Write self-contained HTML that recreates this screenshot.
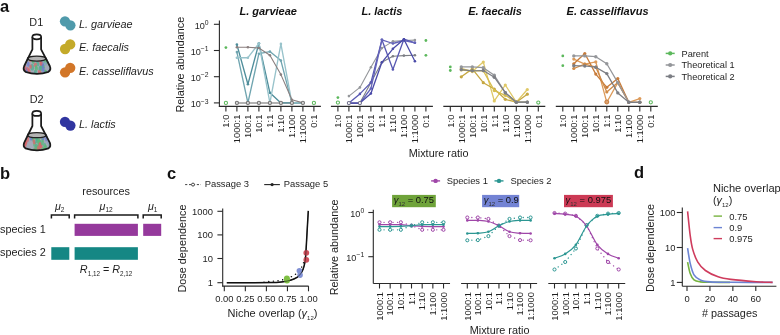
<!DOCTYPE html>
<html><head><meta charset="utf-8"><style>
html,body{margin:0;padding:0;background:#fff;width:780px;height:335px;overflow:hidden}
svg{display:block;filter:blur(0.3px)}
text{font-family:"Liberation Sans", sans-serif}
</style></head><body>
<svg width="780" height="335" viewBox="0 0 780 335" font-family='"Liberation Sans", sans-serif'>
<rect width="780" height="335" fill="#fff"/>
<text x="0.00" y="11.70" font-size="16.5" text-anchor="start" font-weight="bold" fill="#111">a</text>
<text x="0.00" y="178.80" font-size="16.5" text-anchor="start" font-weight="bold" fill="#111">b</text>
<text x="167.00" y="178.80" font-size="16.5" text-anchor="start" font-weight="bold" fill="#111">c</text>
<text x="634.00" y="177.80" font-size="16.5" text-anchor="start" font-weight="bold" fill="#111">d</text>
<clipPath id="liq1"><path d="M27.2,58 L24.2,66 Q22.8,69.5 25.5,71.5 Q37,75.5 48.5,71.5 Q51.2,69.5 49.8,66 L46.8,58 Z"/></clipPath>
<g clip-path="url(#liq1)">
<rect x="20" y="55" width="34" height="22" fill="#a3aab8"/>
<ellipse cx="45.2" cy="72.2" rx="1.4" ry="2.4" transform="rotate(-20 45.2 72.2)" fill="#8aa0c8" opacity="0.75"/>
<ellipse cx="50.0" cy="70.8" rx="1.3" ry="2.0" transform="rotate(-0 50.0 70.8)" fill="#6a78d0" opacity="0.75"/>
<ellipse cx="43.4" cy="65.6" rx="1.4" ry="3.0" transform="rotate(-12 43.4 65.6)" fill="#5db878" opacity="0.75"/>
<ellipse cx="41.6" cy="68.8" rx="1.1" ry="2.6" transform="rotate(20 41.6 68.8)" fill="#5db878" opacity="0.75"/>
<ellipse cx="45.4" cy="71.9" rx="1.4" ry="2.1" transform="rotate(-12 45.4 71.9)" fill="#5db878" opacity="0.75"/>
<ellipse cx="25.7" cy="59.7" rx="1.7" ry="3.2" transform="rotate(17 25.7 59.7)" fill="#9a9ac0" opacity="0.75"/>
<ellipse cx="49.1" cy="73.6" rx="1.4" ry="2.9" transform="rotate(8 49.1 73.6)" fill="#5db878" opacity="0.75"/>
<ellipse cx="40.7" cy="62.9" rx="1.3" ry="2.5" transform="rotate(-15 40.7 62.9)" fill="#d9676a" opacity="0.75"/>
<ellipse cx="26.3" cy="69.6" rx="1.2" ry="2.3" transform="rotate(-1 26.3 69.6)" fill="#6a78d0" opacity="0.75"/>
<ellipse cx="39.7" cy="72.3" rx="1.7" ry="2.7" transform="rotate(-12 39.7 72.3)" fill="#d9676a" opacity="0.75"/>
<ellipse cx="23.5" cy="64.3" rx="1.7" ry="2.9" transform="rotate(-8 23.5 64.3)" fill="#9a9ac0" opacity="0.75"/>
<ellipse cx="37.8" cy="63.6" rx="1.5" ry="2.7" transform="rotate(-13 37.8 63.6)" fill="#4fae90" opacity="0.75"/>
<ellipse cx="25.7" cy="66.1" rx="1.6" ry="2.1" transform="rotate(4 25.7 66.1)" fill="#9a9ac0" opacity="0.75"/>
<ellipse cx="35.5" cy="72.3" rx="1.6" ry="2.7" transform="rotate(-1 35.5 72.3)" fill="#4fae90" opacity="0.75"/>
<ellipse cx="49.3" cy="62.1" rx="1.5" ry="2.6" transform="rotate(9 49.3 62.1)" fill="#6a78d0" opacity="0.75"/>
<ellipse cx="23.5" cy="67.6" rx="1.2" ry="3.1" transform="rotate(-12 23.5 67.6)" fill="#9a9ac0" opacity="0.75"/>
<ellipse cx="32.2" cy="67.3" rx="1.8" ry="3.3" transform="rotate(-3 32.2 67.3)" fill="#4fae90" opacity="0.75"/>
<ellipse cx="30.5" cy="66.6" rx="1.4" ry="2.2" transform="rotate(-5 30.5 66.6)" fill="#d9676a" opacity="0.75"/>
<ellipse cx="40.8" cy="66.5" rx="1.3" ry="2.2" transform="rotate(17 40.8 66.5)" fill="#4fae90" opacity="0.75"/>
<ellipse cx="42.4" cy="63.3" rx="1.5" ry="3.4" transform="rotate(9 42.4 63.3)" fill="#6a78d0" opacity="0.75"/>
<ellipse cx="49.2" cy="63.7" rx="1.0" ry="2.6" transform="rotate(-18 49.2 63.7)" fill="#5db878" opacity="0.75"/>
<ellipse cx="40.1" cy="68.1" rx="1.5" ry="2.5" transform="rotate(19 40.1 68.1)" fill="#4fae90" opacity="0.75"/>
<ellipse cx="46.9" cy="60.0" rx="1.2" ry="3.3" transform="rotate(5 46.9 60.0)" fill="#8aa0c8" opacity="0.75"/>
<ellipse cx="45.6" cy="71.8" rx="1.4" ry="2.1" transform="rotate(-11 45.6 71.8)" fill="#5db878" opacity="0.75"/>
<ellipse cx="33.1" cy="61.3" rx="1.5" ry="2.8" transform="rotate(-14 33.1 61.3)" fill="#5db878" opacity="0.75"/>
<ellipse cx="43.0" cy="59.7" rx="1.4" ry="3.0" transform="rotate(-17 43.0 59.7)" fill="#5db878" opacity="0.75"/>
<ellipse cx="42.6" cy="61.0" rx="1.7" ry="2.1" transform="rotate(5 42.6 61.0)" fill="#5db878" opacity="0.75"/>
<ellipse cx="48.4" cy="73.3" rx="1.4" ry="3.0" transform="rotate(12 48.4 73.3)" fill="#6a78d0" opacity="0.75"/>
<ellipse cx="45.9" cy="62.0" rx="1.7" ry="2.7" transform="rotate(-2 45.9 62.0)" fill="#5db878" opacity="0.75"/>
<ellipse cx="36.4" cy="68.3" rx="1.7" ry="2.4" transform="rotate(-5 36.4 68.3)" fill="#5db878" opacity="0.75"/>
<ellipse cx="49.3" cy="60.3" rx="1.7" ry="2.4" transform="rotate(19 49.3 60.3)" fill="#8aa0c8" opacity="0.75"/>
<ellipse cx="35.4" cy="64.9" rx="1.6" ry="2.3" transform="rotate(4 35.4 64.9)" fill="#d9676a" opacity="0.75"/>
<ellipse cx="38.0" cy="59.5" rx="1.1" ry="2.5" transform="rotate(-18 38.0 59.5)" fill="#d9676a" opacity="0.75"/>
<ellipse cx="42.6" cy="64.5" rx="1.1" ry="3.0" transform="rotate(-15 42.6 64.5)" fill="#6a78d0" opacity="0.75"/>
<ellipse cx="36.0" cy="66.9" rx="1.1" ry="2.1" transform="rotate(1 36.0 66.9)" fill="#5db878" opacity="0.75"/>
<ellipse cx="28.2" cy="70.3" rx="1.1" ry="3.0" transform="rotate(0 28.2 70.3)" fill="#9a9ac0" opacity="0.75"/>
<ellipse cx="45.3" cy="74.1" rx="1.6" ry="3.0" transform="rotate(-15 45.3 74.1)" fill="#6a78d0" opacity="0.75"/>
<ellipse cx="44.2" cy="74.9" rx="1.4" ry="2.0" transform="rotate(12 44.2 74.9)" fill="#8aa0c8" opacity="0.75"/>
<ellipse cx="28.3" cy="64.2" rx="1.3" ry="2.6" transform="rotate(-4 28.3 64.2)" fill="#6a78d0" opacity="0.75"/>
<ellipse cx="43.1" cy="69.3" rx="1.6" ry="2.5" transform="rotate(7 43.1 69.3)" fill="#6a78d0" opacity="0.75"/>
<ellipse cx="27.6" cy="69.0" rx="1.3" ry="2.1" transform="rotate(-18 27.6 69.0)" fill="#d9676a" opacity="0.75"/>
<ellipse cx="26.2" cy="70.4" rx="1.1" ry="2.5" transform="rotate(-19 26.2 70.4)" fill="#6a78d0" opacity="0.75"/>
<ellipse cx="45.0" cy="62.6" rx="1.5" ry="3.3" transform="rotate(-8 45.0 62.6)" fill="#8aa0c8" opacity="0.75"/>
<ellipse cx="25.2" cy="68.2" rx="1.0" ry="3.3" transform="rotate(-2 25.2 68.2)" fill="#d9676a" opacity="0.75"/>
<ellipse cx="42.7" cy="61.8" rx="1.5" ry="2.0" transform="rotate(14 42.7 61.8)" fill="#8aa0c8" opacity="0.75"/>
<ellipse cx="41.2" cy="63.6" rx="1.4" ry="2.3" transform="rotate(14 41.2 63.6)" fill="#d9676a" opacity="0.75"/>
<ellipse cx="30.8" cy="59.2" rx="1.4" ry="3.0" transform="rotate(19 30.8 59.2)" fill="#d9676a" opacity="0.75"/>
<ellipse cx="44.8" cy="60.5" rx="1.5" ry="2.0" transform="rotate(-5 44.8 60.5)" fill="#5db878" opacity="0.75"/>
<ellipse cx="29.3" cy="71.2" rx="1.3" ry="3.0" transform="rotate(-6 29.3 71.2)" fill="#d9676a" opacity="0.75"/>
<ellipse cx="32.6" cy="59.5" rx="1.3" ry="2.7" transform="rotate(-1 32.6 59.5)" fill="#5db878" opacity="0.75"/>
</g>
<ellipse cx="36.8" cy="58.6" rx="9.4" ry="2.5" fill="#b4b4b4" stroke="#222" stroke-width="1.2"/>
<path d="M32.4,37 L32.4,49.4 L24.2,66 Q22.6,69.8 25.5,71.8 Q37,75.8 48.5,71.8 Q51.4,69.8 49.8,66 L41.1,49.4 L41.1,37" fill="none" stroke="#1a1a1a" stroke-width="1.75" stroke-linejoin="round"/>
<ellipse cx="36.75" cy="36.8" rx="4.4" ry="2.5" fill="#fff" stroke="#1a1a1a" stroke-width="1.7"/>
<clipPath id="liq2"><path d="M27.2,134.6 L24.2,142.6 Q22.8,146.1 25.5,148.1 Q37,152.1 48.5,148.1 Q51.2,146.1 49.8,142.6 L46.8,134.6 Z"/></clipPath>
<g clip-path="url(#liq2)">
<rect x="20" y="131.6" width="34" height="22" fill="#a3aab8"/>
<ellipse cx="32.1" cy="138.0" rx="1.5" ry="2.1" transform="rotate(1 32.1 138.0)" fill="#5db878" opacity="0.75"/>
<ellipse cx="39.3" cy="150.2" rx="1.2" ry="2.1" transform="rotate(-3 39.3 150.2)" fill="#d9676a" opacity="0.75"/>
<ellipse cx="25.5" cy="142.4" rx="1.7" ry="2.2" transform="rotate(-11 25.5 142.4)" fill="#d9676a" opacity="0.75"/>
<ellipse cx="39.2" cy="141.9" rx="1.8" ry="2.1" transform="rotate(14 39.2 141.9)" fill="#5db878" opacity="0.75"/>
<ellipse cx="34.7" cy="144.3" rx="1.5" ry="2.8" transform="rotate(7 34.7 144.3)" fill="#5db878" opacity="0.75"/>
<ellipse cx="39.3" cy="145.8" rx="1.3" ry="2.8" transform="rotate(-17 39.3 145.8)" fill="#5db878" opacity="0.75"/>
<ellipse cx="40.3" cy="143.5" rx="1.4" ry="3.1" transform="rotate(-1 40.3 143.5)" fill="#4fae90" opacity="0.75"/>
<ellipse cx="33.1" cy="139.6" rx="1.1" ry="3.1" transform="rotate(-17 33.1 139.6)" fill="#5db878" opacity="0.75"/>
<ellipse cx="37.7" cy="149.6" rx="1.6" ry="2.4" transform="rotate(19 37.7 149.6)" fill="#5db878" opacity="0.75"/>
<ellipse cx="37.3" cy="138.2" rx="1.3" ry="3.3" transform="rotate(-3 37.3 138.2)" fill="#5db878" opacity="0.75"/>
<ellipse cx="44.4" cy="144.8" rx="1.7" ry="2.4" transform="rotate(8 44.4 144.8)" fill="#8aa0c8" opacity="0.75"/>
<ellipse cx="39.2" cy="142.9" rx="1.7" ry="3.3" transform="rotate(-1 39.2 142.9)" fill="#5db878" opacity="0.75"/>
<ellipse cx="24.7" cy="146.8" rx="1.5" ry="3.4" transform="rotate(13 24.7 146.8)" fill="#d9676a" opacity="0.75"/>
<ellipse cx="43.1" cy="149.8" rx="1.3" ry="3.3" transform="rotate(-6 43.1 149.8)" fill="#5db878" opacity="0.75"/>
<ellipse cx="36.8" cy="139.1" rx="1.2" ry="3.0" transform="rotate(-4 36.8 139.1)" fill="#4fae90" opacity="0.75"/>
<ellipse cx="25.3" cy="142.8" rx="1.4" ry="3.2" transform="rotate(13 25.3 142.8)" fill="#d9676a" opacity="0.75"/>
<ellipse cx="42.8" cy="151.4" rx="1.5" ry="2.5" transform="rotate(-11 42.8 151.4)" fill="#5db878" opacity="0.75"/>
<ellipse cx="27.9" cy="139.3" rx="1.2" ry="2.7" transform="rotate(4 27.9 139.3)" fill="#d9676a" opacity="0.75"/>
<ellipse cx="30.9" cy="137.9" rx="1.4" ry="2.9" transform="rotate(-7 30.9 137.9)" fill="#6a78d0" opacity="0.75"/>
<ellipse cx="42.3" cy="143.8" rx="1.5" ry="2.9" transform="rotate(-18 42.3 143.8)" fill="#8aa0c8" opacity="0.75"/>
<ellipse cx="34.1" cy="141.9" rx="1.4" ry="2.6" transform="rotate(-12 34.1 141.9)" fill="#d9676a" opacity="0.75"/>
<ellipse cx="35.3" cy="137.4" rx="1.5" ry="2.1" transform="rotate(3 35.3 137.4)" fill="#5db878" opacity="0.75"/>
<ellipse cx="49.6" cy="145.4" rx="1.1" ry="2.3" transform="rotate(-5 49.6 145.4)" fill="#5db878" opacity="0.75"/>
<ellipse cx="49.8" cy="145.2" rx="1.4" ry="2.2" transform="rotate(-0 49.8 145.2)" fill="#8aa0c8" opacity="0.75"/>
<ellipse cx="36.5" cy="140.6" rx="1.1" ry="3.0" transform="rotate(10 36.5 140.6)" fill="#4fae90" opacity="0.75"/>
<ellipse cx="46.2" cy="138.2" rx="1.0" ry="3.3" transform="rotate(1 46.2 138.2)" fill="#6a78d0" opacity="0.75"/>
<ellipse cx="42.3" cy="150.2" rx="1.6" ry="2.4" transform="rotate(6 42.3 150.2)" fill="#5db878" opacity="0.75"/>
<ellipse cx="42.5" cy="139.8" rx="1.3" ry="2.2" transform="rotate(11 42.5 139.8)" fill="#5db878" opacity="0.75"/>
<ellipse cx="40.8" cy="145.4" rx="1.6" ry="3.1" transform="rotate(-12 40.8 145.4)" fill="#d9676a" opacity="0.75"/>
<ellipse cx="45.9" cy="147.4" rx="1.2" ry="2.7" transform="rotate(-6 45.9 147.4)" fill="#5db878" opacity="0.75"/>
<ellipse cx="50.7" cy="148.2" rx="1.4" ry="2.3" transform="rotate(4 50.7 148.2)" fill="#5db878" opacity="0.75"/>
<ellipse cx="35.5" cy="150.6" rx="1.8" ry="3.3" transform="rotate(-5 35.5 150.6)" fill="#d9676a" opacity="0.75"/>
<ellipse cx="25.9" cy="143.1" rx="1.3" ry="2.7" transform="rotate(19 25.9 143.1)" fill="#d9676a" opacity="0.75"/>
<ellipse cx="36.4" cy="146.0" rx="1.6" ry="2.1" transform="rotate(6 36.4 146.0)" fill="#4fae90" opacity="0.75"/>
<ellipse cx="44.9" cy="147.6" rx="1.4" ry="2.2" transform="rotate(12 44.9 147.6)" fill="#5db878" opacity="0.75"/>
<ellipse cx="25.4" cy="150.7" rx="1.6" ry="2.6" transform="rotate(10 25.4 150.7)" fill="#d9676a" opacity="0.75"/>
<ellipse cx="43.3" cy="138.3" rx="1.1" ry="2.2" transform="rotate(16 43.3 138.3)" fill="#6a78d0" opacity="0.75"/>
<ellipse cx="40.1" cy="145.1" rx="1.4" ry="3.3" transform="rotate(-14 40.1 145.1)" fill="#d9676a" opacity="0.75"/>
<ellipse cx="23.6" cy="148.4" rx="1.6" ry="2.1" transform="rotate(10 23.6 148.4)" fill="#6a78d0" opacity="0.75"/>
<ellipse cx="35.1" cy="149.5" rx="1.7" ry="2.3" transform="rotate(-10 35.1 149.5)" fill="#5db878" opacity="0.75"/>
<ellipse cx="37.0" cy="147.8" rx="1.3" ry="2.8" transform="rotate(13 37.0 147.8)" fill="#5db878" opacity="0.75"/>
<ellipse cx="48.5" cy="141.3" rx="1.4" ry="2.8" transform="rotate(16 48.5 141.3)" fill="#8aa0c8" opacity="0.75"/>
<ellipse cx="46.2" cy="149.7" rx="1.1" ry="2.2" transform="rotate(0 46.2 149.7)" fill="#8aa0c8" opacity="0.75"/>
<ellipse cx="44.7" cy="145.3" rx="1.6" ry="2.2" transform="rotate(-14 44.7 145.3)" fill="#5db878" opacity="0.75"/>
<ellipse cx="38.6" cy="140.8" rx="1.4" ry="2.8" transform="rotate(11 38.6 140.8)" fill="#5db878" opacity="0.75"/>
<ellipse cx="47.7" cy="136.5" rx="1.2" ry="2.1" transform="rotate(-16 47.7 136.5)" fill="#8aa0c8" opacity="0.75"/>
<ellipse cx="38.7" cy="147.8" rx="1.7" ry="2.6" transform="rotate(5 38.7 147.8)" fill="#d9676a" opacity="0.75"/>
<ellipse cx="42.4" cy="142.8" rx="1.4" ry="2.7" transform="rotate(18 42.4 142.8)" fill="#5db878" opacity="0.75"/>
<ellipse cx="48.8" cy="149.9" rx="1.2" ry="2.6" transform="rotate(-3 48.8 149.9)" fill="#8aa0c8" opacity="0.75"/>
<ellipse cx="35.4" cy="136.8" rx="1.2" ry="2.1" transform="rotate(7 35.4 136.8)" fill="#5db878" opacity="0.75"/>
</g>
<ellipse cx="36.8" cy="135.2" rx="9.4" ry="2.5" fill="#b4b4b4" stroke="#222" stroke-width="1.2"/>
<path d="M32.4,113.6 L32.4,126.0 L24.2,142.6 Q22.6,146.39999999999998 25.5,148.39999999999998 Q37,152.39999999999998 48.5,148.39999999999998 Q51.4,146.39999999999998 49.8,142.6 L41.1,126.0 L41.1,113.6" fill="none" stroke="#1a1a1a" stroke-width="1.75" stroke-linejoin="round"/>
<ellipse cx="36.75" cy="113.39999999999999" rx="4.4" ry="2.5" fill="#fff" stroke="#1a1a1a" stroke-width="1.7"/>
<text x="36.30" y="26.00" font-size="10.85" text-anchor="middle" fill="#1e1e1e">D1</text>
<text x="36.70" y="103.20" font-size="10.85" text-anchor="middle" fill="#1e1e1e">D2</text>
<circle cx="65.00" cy="21.30" r="5.15" fill="#4f9aab" stroke="none" stroke-width="1.0"/>
<circle cx="70.40" cy="25.30" r="5.15" fill="#4f9aab" stroke="none" stroke-width="1.0"/>
<circle cx="65.10" cy="49.00" r="5.15" fill="#c4aa2a" stroke="none" stroke-width="1.0"/>
<circle cx="70.20" cy="44.40" r="5.15" fill="#c4aa2a" stroke="none" stroke-width="1.0"/>
<circle cx="65.10" cy="72.30" r="5.15" fill="#d27628" stroke="none" stroke-width="1.0"/>
<circle cx="70.20" cy="67.90" r="5.15" fill="#d27628" stroke="none" stroke-width="1.0"/>
<circle cx="65.00" cy="121.90" r="5.15" fill="#3035a0" stroke="none" stroke-width="1.0"/>
<circle cx="70.40" cy="125.60" r="5.15" fill="#3035a0" stroke="none" stroke-width="1.0"/>
<text x="79.00" y="28.00" font-size="10.85" text-anchor="start" font-style="italic" fill="#1e1e1e">L. garvieae</text>
<text x="79.00" y="51.40" font-size="10.85" text-anchor="start" font-style="italic" fill="#1e1e1e">E. faecalis</text>
<text x="79.00" y="74.70" font-size="10.85" text-anchor="start" font-style="italic" fill="#1e1e1e">E. casseliflavus</text>
<text x="79.00" y="127.80" font-size="10.85" text-anchor="start" font-style="italic" fill="#1e1e1e">L. lactis</text>
<line x1="219.40" y1="20.50" x2="219.40" y2="106.90" stroke="#2a2a2a" stroke-width="1.1"/>
<line x1="213.90" y1="24.30" x2="219.40" y2="24.30" stroke="#2a2a2a" stroke-width="1.1"/>
<text x="208.6" y="28.80" font-size="9.1" text-anchor="end" fill="#1e1e1e">10<tspan font-size="6.8" dy="-3.9">0</tspan></text>
<line x1="213.90" y1="50.50" x2="219.40" y2="50.50" stroke="#2a2a2a" stroke-width="1.1"/>
<text x="208.6" y="55.00" font-size="9.1" text-anchor="end" fill="#1e1e1e">10<tspan font-size="6.8" dy="-3.9">&#8722;1</tspan></text>
<line x1="213.90" y1="76.70" x2="219.40" y2="76.70" stroke="#2a2a2a" stroke-width="1.1"/>
<text x="208.6" y="81.20" font-size="9.1" text-anchor="end" fill="#1e1e1e">10<tspan font-size="6.8" dy="-3.9">&#8722;2</tspan></text>
<line x1="213.90" y1="102.90" x2="219.40" y2="102.90" stroke="#2a2a2a" stroke-width="1.1"/>
<text x="208.6" y="107.40" font-size="9.1" text-anchor="end" fill="#1e1e1e">10<tspan font-size="6.8" dy="-3.9">&#8722;3</tspan></text>
<text x="184.20" y="64.60" font-size="10.85" text-anchor="middle" fill="#1e1e1e" transform="rotate(-90 184.20 64.60)">Relative abundance</text>
<line x1="218.90" y1="106.40" x2="320.90" y2="106.40" stroke="#2a2a2a" stroke-width="1.1"/>
<line x1="225.90" y1="106.40" x2="225.90" y2="111.40" stroke="#2a2a2a" stroke-width="1.1"/>
<text x="229.20" y="114.60" font-size="9.4" text-anchor="end" fill="#1e1e1e" transform="rotate(-90 229.20 114.60)">1:0</text>
<line x1="236.90" y1="106.40" x2="236.90" y2="111.40" stroke="#2a2a2a" stroke-width="1.1"/>
<text x="240.20" y="114.60" font-size="9.4" text-anchor="end" fill="#1e1e1e" transform="rotate(-90 240.20 114.60)">1000:1</text>
<line x1="247.90" y1="106.40" x2="247.90" y2="111.40" stroke="#2a2a2a" stroke-width="1.1"/>
<text x="251.20" y="114.60" font-size="9.4" text-anchor="end" fill="#1e1e1e" transform="rotate(-90 251.20 114.60)">100:1</text>
<line x1="258.90" y1="106.40" x2="258.90" y2="111.40" stroke="#2a2a2a" stroke-width="1.1"/>
<text x="262.20" y="114.60" font-size="9.4" text-anchor="end" fill="#1e1e1e" transform="rotate(-90 262.20 114.60)">10:1</text>
<line x1="269.90" y1="106.40" x2="269.90" y2="111.40" stroke="#2a2a2a" stroke-width="1.1"/>
<text x="273.20" y="114.60" font-size="9.4" text-anchor="end" fill="#1e1e1e" transform="rotate(-90 273.20 114.60)">1:1</text>
<line x1="280.90" y1="106.40" x2="280.90" y2="111.40" stroke="#2a2a2a" stroke-width="1.1"/>
<text x="284.20" y="114.60" font-size="9.4" text-anchor="end" fill="#1e1e1e" transform="rotate(-90 284.20 114.60)">1:10</text>
<line x1="291.90" y1="106.40" x2="291.90" y2="111.40" stroke="#2a2a2a" stroke-width="1.1"/>
<text x="295.20" y="114.60" font-size="9.4" text-anchor="end" fill="#1e1e1e" transform="rotate(-90 295.20 114.60)">1:100</text>
<line x1="302.90" y1="106.40" x2="302.90" y2="111.40" stroke="#2a2a2a" stroke-width="1.1"/>
<text x="306.20" y="114.60" font-size="9.4" text-anchor="end" fill="#1e1e1e" transform="rotate(-90 306.20 114.60)">1:1000</text>
<line x1="313.90" y1="106.40" x2="313.90" y2="111.40" stroke="#2a2a2a" stroke-width="1.1"/>
<text x="317.20" y="114.60" font-size="9.4" text-anchor="end" fill="#1e1e1e" transform="rotate(-90 317.20 114.60)">0:1</text>
<text x="268.20" y="14.70" font-size="11.0" text-anchor="middle" font-weight="bold" font-style="italic" fill="#111">L. garvieae</text>
<line x1="330.90" y1="106.40" x2="432.90" y2="106.40" stroke="#2a2a2a" stroke-width="1.1"/>
<line x1="337.90" y1="106.40" x2="337.90" y2="111.40" stroke="#2a2a2a" stroke-width="1.1"/>
<text x="341.20" y="114.60" font-size="9.4" text-anchor="end" fill="#1e1e1e" transform="rotate(-90 341.20 114.60)">1:0</text>
<line x1="348.90" y1="106.40" x2="348.90" y2="111.40" stroke="#2a2a2a" stroke-width="1.1"/>
<text x="352.20" y="114.60" font-size="9.4" text-anchor="end" fill="#1e1e1e" transform="rotate(-90 352.20 114.60)">1000:1</text>
<line x1="359.90" y1="106.40" x2="359.90" y2="111.40" stroke="#2a2a2a" stroke-width="1.1"/>
<text x="363.20" y="114.60" font-size="9.4" text-anchor="end" fill="#1e1e1e" transform="rotate(-90 363.20 114.60)">100:1</text>
<line x1="370.90" y1="106.40" x2="370.90" y2="111.40" stroke="#2a2a2a" stroke-width="1.1"/>
<text x="374.20" y="114.60" font-size="9.4" text-anchor="end" fill="#1e1e1e" transform="rotate(-90 374.20 114.60)">10:1</text>
<line x1="381.90" y1="106.40" x2="381.90" y2="111.40" stroke="#2a2a2a" stroke-width="1.1"/>
<text x="385.20" y="114.60" font-size="9.4" text-anchor="end" fill="#1e1e1e" transform="rotate(-90 385.20 114.60)">1:1</text>
<line x1="392.90" y1="106.40" x2="392.90" y2="111.40" stroke="#2a2a2a" stroke-width="1.1"/>
<text x="396.20" y="114.60" font-size="9.4" text-anchor="end" fill="#1e1e1e" transform="rotate(-90 396.20 114.60)">1:10</text>
<line x1="403.90" y1="106.40" x2="403.90" y2="111.40" stroke="#2a2a2a" stroke-width="1.1"/>
<text x="407.20" y="114.60" font-size="9.4" text-anchor="end" fill="#1e1e1e" transform="rotate(-90 407.20 114.60)">1:100</text>
<line x1="414.90" y1="106.40" x2="414.90" y2="111.40" stroke="#2a2a2a" stroke-width="1.1"/>
<text x="418.20" y="114.60" font-size="9.4" text-anchor="end" fill="#1e1e1e" transform="rotate(-90 418.20 114.60)">1:1000</text>
<line x1="425.90" y1="106.40" x2="425.90" y2="111.40" stroke="#2a2a2a" stroke-width="1.1"/>
<text x="429.20" y="114.60" font-size="9.4" text-anchor="end" fill="#1e1e1e" transform="rotate(-90 429.20 114.60)">0:1</text>
<text x="381.90" y="14.70" font-size="11.0" text-anchor="middle" font-weight="bold" font-style="italic" fill="#111">L. lactis</text>
<line x1="443.30" y1="106.40" x2="545.30" y2="106.40" stroke="#2a2a2a" stroke-width="1.1"/>
<line x1="450.30" y1="106.40" x2="450.30" y2="111.40" stroke="#2a2a2a" stroke-width="1.1"/>
<text x="453.60" y="114.60" font-size="9.4" text-anchor="end" fill="#1e1e1e" transform="rotate(-90 453.60 114.60)">1:0</text>
<line x1="461.30" y1="106.40" x2="461.30" y2="111.40" stroke="#2a2a2a" stroke-width="1.1"/>
<text x="464.60" y="114.60" font-size="9.4" text-anchor="end" fill="#1e1e1e" transform="rotate(-90 464.60 114.60)">1000:1</text>
<line x1="472.30" y1="106.40" x2="472.30" y2="111.40" stroke="#2a2a2a" stroke-width="1.1"/>
<text x="475.60" y="114.60" font-size="9.4" text-anchor="end" fill="#1e1e1e" transform="rotate(-90 475.60 114.60)">100:1</text>
<line x1="483.30" y1="106.40" x2="483.30" y2="111.40" stroke="#2a2a2a" stroke-width="1.1"/>
<text x="486.60" y="114.60" font-size="9.4" text-anchor="end" fill="#1e1e1e" transform="rotate(-90 486.60 114.60)">10:1</text>
<line x1="494.30" y1="106.40" x2="494.30" y2="111.40" stroke="#2a2a2a" stroke-width="1.1"/>
<text x="497.60" y="114.60" font-size="9.4" text-anchor="end" fill="#1e1e1e" transform="rotate(-90 497.60 114.60)">1:1</text>
<line x1="505.30" y1="106.40" x2="505.30" y2="111.40" stroke="#2a2a2a" stroke-width="1.1"/>
<text x="508.60" y="114.60" font-size="9.4" text-anchor="end" fill="#1e1e1e" transform="rotate(-90 508.60 114.60)">1:10</text>
<line x1="516.30" y1="106.40" x2="516.30" y2="111.40" stroke="#2a2a2a" stroke-width="1.1"/>
<text x="519.60" y="114.60" font-size="9.4" text-anchor="end" fill="#1e1e1e" transform="rotate(-90 519.60 114.60)">1:100</text>
<line x1="527.30" y1="106.40" x2="527.30" y2="111.40" stroke="#2a2a2a" stroke-width="1.1"/>
<text x="530.60" y="114.60" font-size="9.4" text-anchor="end" fill="#1e1e1e" transform="rotate(-90 530.60 114.60)">1:1000</text>
<line x1="538.30" y1="106.40" x2="538.30" y2="111.40" stroke="#2a2a2a" stroke-width="1.1"/>
<text x="541.60" y="114.60" font-size="9.4" text-anchor="end" fill="#1e1e1e" transform="rotate(-90 541.60 114.60)">0:1</text>
<text x="495.10" y="14.70" font-size="11.0" text-anchor="middle" font-weight="bold" font-style="italic" fill="#111">E. faecalis</text>
<line x1="555.80" y1="106.40" x2="657.80" y2="106.40" stroke="#2a2a2a" stroke-width="1.1"/>
<line x1="562.80" y1="106.40" x2="562.80" y2="111.40" stroke="#2a2a2a" stroke-width="1.1"/>
<text x="566.10" y="114.60" font-size="9.4" text-anchor="end" fill="#1e1e1e" transform="rotate(-90 566.10 114.60)">1:0</text>
<line x1="573.80" y1="106.40" x2="573.80" y2="111.40" stroke="#2a2a2a" stroke-width="1.1"/>
<text x="577.10" y="114.60" font-size="9.4" text-anchor="end" fill="#1e1e1e" transform="rotate(-90 577.10 114.60)">1000:1</text>
<line x1="584.80" y1="106.40" x2="584.80" y2="111.40" stroke="#2a2a2a" stroke-width="1.1"/>
<text x="588.10" y="114.60" font-size="9.4" text-anchor="end" fill="#1e1e1e" transform="rotate(-90 588.10 114.60)">100:1</text>
<line x1="595.80" y1="106.40" x2="595.80" y2="111.40" stroke="#2a2a2a" stroke-width="1.1"/>
<text x="599.10" y="114.60" font-size="9.4" text-anchor="end" fill="#1e1e1e" transform="rotate(-90 599.10 114.60)">10:1</text>
<line x1="606.80" y1="106.40" x2="606.80" y2="111.40" stroke="#2a2a2a" stroke-width="1.1"/>
<text x="610.10" y="114.60" font-size="9.4" text-anchor="end" fill="#1e1e1e" transform="rotate(-90 610.10 114.60)">1:1</text>
<line x1="617.80" y1="106.40" x2="617.80" y2="111.40" stroke="#2a2a2a" stroke-width="1.1"/>
<text x="621.10" y="114.60" font-size="9.4" text-anchor="end" fill="#1e1e1e" transform="rotate(-90 621.10 114.60)">1:10</text>
<line x1="628.80" y1="106.40" x2="628.80" y2="111.40" stroke="#2a2a2a" stroke-width="1.1"/>
<text x="632.10" y="114.60" font-size="9.4" text-anchor="end" fill="#1e1e1e" transform="rotate(-90 632.10 114.60)">1:100</text>
<line x1="639.80" y1="106.40" x2="639.80" y2="111.40" stroke="#2a2a2a" stroke-width="1.1"/>
<text x="643.10" y="114.60" font-size="9.4" text-anchor="end" fill="#1e1e1e" transform="rotate(-90 643.10 114.60)">1:1000</text>
<line x1="650.80" y1="106.40" x2="650.80" y2="111.40" stroke="#2a2a2a" stroke-width="1.1"/>
<text x="654.10" y="114.60" font-size="9.4" text-anchor="end" fill="#1e1e1e" transform="rotate(-90 654.10 114.60)">0:1</text>
<text x="607.60" y="14.70" font-size="11.0" text-anchor="middle" font-weight="bold" font-style="italic" fill="#111">E. casseliflavus</text>
<text x="438.60" y="157.40" font-size="10.85" text-anchor="middle" fill="#1e1e1e">Mixture ratio</text>
<polyline points="236.90,102.90 247.90,102.90 258.90,102.90 269.90,102.90 280.90,102.90 291.90,102.90 302.90,102.90" fill="none" stroke="#9a9a9a" stroke-width="1.5" stroke-linejoin="round"/>
<polyline points="236.90,44.60 247.90,84.30 258.90,43.30 269.90,92.80 280.90,102.90 291.90,102.90 302.90,102.90" fill="none" stroke="#4f8e9b" stroke-width="1.35" stroke-linejoin="round"/>
<circle cx="236.90" cy="44.60" r="1.3" fill="#4f8e9b" stroke="none" stroke-width="1.0"/>
<circle cx="247.90" cy="84.30" r="1.3" fill="#4f8e9b" stroke="none" stroke-width="1.0"/>
<circle cx="258.90" cy="43.30" r="1.3" fill="#4f8e9b" stroke="none" stroke-width="1.0"/>
<circle cx="269.90" cy="92.80" r="1.3" fill="#4f8e9b" stroke="none" stroke-width="1.0"/>
<polyline points="236.90,52.10 247.90,102.90 258.90,53.70 269.90,51.60 280.90,60.60 291.90,102.90 302.90,102.90" fill="none" stroke="#70a5b0" stroke-width="1.35" stroke-linejoin="round"/>
<circle cx="236.90" cy="52.10" r="1.3" fill="#70a5b0" stroke="none" stroke-width="1.0"/>
<circle cx="258.90" cy="53.70" r="1.3" fill="#70a5b0" stroke="none" stroke-width="1.0"/>
<circle cx="269.90" cy="51.60" r="1.3" fill="#70a5b0" stroke="none" stroke-width="1.0"/>
<circle cx="280.90" cy="60.60" r="1.3" fill="#70a5b0" stroke="none" stroke-width="1.0"/>
<polyline points="236.90,57.70 247.90,57.70 258.90,43.30 269.90,102.90 280.90,43.90 291.90,102.90 302.90,102.90" fill="none" stroke="#98c3cb" stroke-width="1.35" stroke-linejoin="round"/>
<circle cx="236.90" cy="57.70" r="1.3" fill="#98c3cb" stroke="none" stroke-width="1.0"/>
<circle cx="247.90" cy="57.70" r="1.3" fill="#98c3cb" stroke="none" stroke-width="1.0"/>
<circle cx="258.90" cy="43.30" r="1.3" fill="#98c3cb" stroke="none" stroke-width="1.0"/>
<circle cx="280.90" cy="43.90" r="1.3" fill="#98c3cb" stroke="none" stroke-width="1.0"/>
<polyline points="236.90,47.30 247.90,47.30 258.90,48.00 269.90,55.20 280.90,74.60 291.90,99.70 302.90,102.90" fill="none" stroke="#8a7f7f" stroke-width="1.1" stroke-linejoin="round"/>
<circle cx="236.90" cy="47.30" r="1.3" fill="#8a7f7f" stroke="none" stroke-width="1.0"/>
<circle cx="247.90" cy="47.30" r="1.3" fill="#8a7f7f" stroke="none" stroke-width="1.0"/>
<circle cx="258.90" cy="48.00" r="1.3" fill="#8a7f7f" stroke="none" stroke-width="1.0"/>
<circle cx="269.90" cy="55.20" r="1.3" fill="#8a7f7f" stroke="none" stroke-width="1.0"/>
<circle cx="280.90" cy="74.60" r="1.3" fill="#8a7f7f" stroke="none" stroke-width="1.0"/>
<circle cx="291.90" cy="99.70" r="1.3" fill="#8a7f7f" stroke="none" stroke-width="1.0"/>
<circle cx="236.90" cy="102.90" r="1.6" fill="#d8d8d8" stroke="#747474" stroke-width="1.05"/>
<circle cx="247.90" cy="102.90" r="1.6" fill="#d8d8d8" stroke="#747474" stroke-width="1.05"/>
<circle cx="258.90" cy="102.90" r="1.6" fill="#d8d8d8" stroke="#747474" stroke-width="1.05"/>
<circle cx="269.90" cy="102.90" r="1.6" fill="#d8d8d8" stroke="#747474" stroke-width="1.05"/>
<circle cx="280.90" cy="102.90" r="1.6" fill="#d8d8d8" stroke="#747474" stroke-width="1.05"/>
<circle cx="291.90" cy="102.90" r="1.6" fill="#d8d8d8" stroke="#747474" stroke-width="1.05"/>
<circle cx="302.90" cy="102.90" r="1.6" fill="#d8d8d8" stroke="#747474" stroke-width="1.05"/>
<circle cx="225.90" cy="47.60" r="1.4" fill="#5cb85c" stroke="none" stroke-width="1.0"/>
<circle cx="225.90" cy="102.90" r="1.6" fill="#fff" stroke="#5cb85c" stroke-width="1.05"/>
<circle cx="313.90" cy="102.90" r="1.6" fill="#fff" stroke="#5cb85c" stroke-width="1.05"/>
<polyline points="348.90,96.10 359.90,87.40 370.90,67.30 381.90,48.10 392.90,41.40 403.90,40.50 414.90,40.10" fill="none" stroke="#94969a" stroke-width="1.1" stroke-linejoin="round"/>
<circle cx="348.90" cy="96.10" r="1.3" fill="#94969a" stroke="none" stroke-width="1.0"/>
<circle cx="359.90" cy="87.40" r="1.3" fill="#94969a" stroke="none" stroke-width="1.0"/>
<circle cx="370.90" cy="67.30" r="1.3" fill="#94969a" stroke="none" stroke-width="1.0"/>
<circle cx="381.90" cy="48.10" r="1.3" fill="#94969a" stroke="none" stroke-width="1.0"/>
<circle cx="392.90" cy="41.40" r="1.3" fill="#94969a" stroke="none" stroke-width="1.0"/>
<circle cx="403.90" cy="40.50" r="1.3" fill="#94969a" stroke="none" stroke-width="1.0"/>
<circle cx="414.90" cy="40.10" r="1.3" fill="#94969a" stroke="none" stroke-width="1.0"/>
<polyline points="348.90,103.10 359.90,103.10 370.90,82.60 381.90,62.30 392.90,56.20 403.90,55.60 414.90,55.30" fill="none" stroke="#7c7e84" stroke-width="1.1" stroke-linejoin="round"/>
<circle cx="370.90" cy="82.60" r="1.3" fill="#7c7e84" stroke="none" stroke-width="1.0"/>
<circle cx="381.90" cy="62.30" r="1.3" fill="#7c7e84" stroke="none" stroke-width="1.0"/>
<circle cx="392.90" cy="56.20" r="1.3" fill="#7c7e84" stroke="none" stroke-width="1.0"/>
<circle cx="403.90" cy="55.60" r="1.3" fill="#7c7e84" stroke="none" stroke-width="1.0"/>
<circle cx="414.90" cy="55.30" r="1.3" fill="#7c7e84" stroke="none" stroke-width="1.0"/>
<polyline points="348.90,103.10 359.90,93.90 370.90,82.60 381.90,39.80 392.90,69.50 403.90,39.20 414.90,42.80" fill="none" stroke="#5858b2" stroke-width="1.3" stroke-linejoin="round"/>
<circle cx="359.90" cy="93.90" r="1.3" fill="#5858b2" stroke="none" stroke-width="1.0"/>
<circle cx="370.90" cy="82.60" r="1.3" fill="#5858b2" stroke="none" stroke-width="1.0"/>
<circle cx="381.90" cy="39.80" r="1.3" fill="#5858b2" stroke="none" stroke-width="1.0"/>
<circle cx="392.90" cy="69.50" r="1.3" fill="#5858b2" stroke="none" stroke-width="1.0"/>
<circle cx="403.90" cy="39.20" r="1.3" fill="#5858b2" stroke="none" stroke-width="1.0"/>
<circle cx="414.90" cy="42.80" r="1.3" fill="#5858b2" stroke="none" stroke-width="1.0"/>
<polyline points="348.90,103.10 359.90,103.10 370.90,88.50 381.90,39.80 392.90,43.50 403.90,40.50 414.90,42.80" fill="none" stroke="#6464b9" stroke-width="1.3" stroke-linejoin="round"/>
<circle cx="370.90" cy="88.50" r="1.3" fill="#6464b9" stroke="none" stroke-width="1.0"/>
<circle cx="381.90" cy="39.80" r="1.3" fill="#6464b9" stroke="none" stroke-width="1.0"/>
<circle cx="392.90" cy="43.50" r="1.3" fill="#6464b9" stroke="none" stroke-width="1.0"/>
<circle cx="403.90" cy="40.50" r="1.3" fill="#6464b9" stroke="none" stroke-width="1.0"/>
<circle cx="414.90" cy="42.80" r="1.3" fill="#6464b9" stroke="none" stroke-width="1.0"/>
<polyline points="348.90,103.10 359.90,103.10 370.90,93.50 381.90,62.30 392.90,48.80 403.90,39.20 414.90,61.20" fill="none" stroke="#4a4aa8" stroke-width="1.3" stroke-linejoin="round"/>
<circle cx="370.90" cy="93.50" r="1.3" fill="#4a4aa8" stroke="none" stroke-width="1.0"/>
<circle cx="381.90" cy="62.30" r="1.3" fill="#4a4aa8" stroke="none" stroke-width="1.0"/>
<circle cx="392.90" cy="48.80" r="1.3" fill="#4a4aa8" stroke="none" stroke-width="1.0"/>
<circle cx="403.90" cy="39.20" r="1.3" fill="#4a4aa8" stroke="none" stroke-width="1.0"/>
<circle cx="414.90" cy="61.20" r="1.3" fill="#4a4aa8" stroke="none" stroke-width="1.0"/>
<circle cx="348.90" cy="103.10" r="1.6" fill="#fff" stroke="#6d6d8a" stroke-width="1.05"/>
<circle cx="359.90" cy="103.10" r="1.6" fill="#fff" stroke="#6d6d8a" stroke-width="1.05"/>
<circle cx="337.90" cy="97.60" r="1.4" fill="#5cb85c" stroke="none" stroke-width="1.0"/>
<circle cx="337.90" cy="102.60" r="1.6" fill="#fff" stroke="#5cb85c" stroke-width="1.05"/>
<circle cx="425.90" cy="40.50" r="1.4" fill="#5cb85c" stroke="none" stroke-width="1.0"/>
<circle cx="425.90" cy="55.30" r="1.4" fill="#5cb85c" stroke="none" stroke-width="1.0"/>
<polyline points="461.30,68.40 472.30,71.60 483.30,62.10 494.30,100.90 505.30,85.00 516.30,102.20 527.30,89.50" fill="none" stroke="#dfc866" stroke-width="1.3" stroke-linejoin="round"/>
<circle cx="461.30" cy="68.40" r="1.6" fill="#dfc866" stroke="none" stroke-width="1.0"/>
<circle cx="472.30" cy="71.60" r="1.6" fill="#dfc866" stroke="none" stroke-width="1.0"/>
<circle cx="483.30" cy="62.10" r="1.6" fill="#dfc866" stroke="none" stroke-width="1.0"/>
<circle cx="494.30" cy="100.90" r="1.6" fill="#dfc866" stroke="none" stroke-width="1.0"/>
<circle cx="505.30" cy="85.00" r="1.6" fill="#dfc866" stroke="none" stroke-width="1.0"/>
<circle cx="516.30" cy="102.20" r="1.6" fill="#dfc866" stroke="none" stroke-width="1.0"/>
<circle cx="527.30" cy="89.50" r="1.6" fill="#dfc866" stroke="none" stroke-width="1.0"/>
<polyline points="461.30,76.80 472.30,68.90 483.30,82.70 494.30,89.00 505.30,99.30 516.30,102.20 527.30,94.20" fill="none" stroke="#c6a842" stroke-width="1.3" stroke-linejoin="round"/>
<circle cx="461.30" cy="76.80" r="1.6" fill="#c6a842" stroke="none" stroke-width="1.0"/>
<circle cx="472.30" cy="68.90" r="1.6" fill="#c6a842" stroke="none" stroke-width="1.0"/>
<circle cx="483.30" cy="82.70" r="1.6" fill="#c6a842" stroke="none" stroke-width="1.0"/>
<circle cx="494.30" cy="89.00" r="1.6" fill="#c6a842" stroke="none" stroke-width="1.0"/>
<circle cx="505.30" cy="99.30" r="1.6" fill="#c6a842" stroke="none" stroke-width="1.0"/>
<circle cx="516.30" cy="102.20" r="1.6" fill="#c6a842" stroke="none" stroke-width="1.0"/>
<circle cx="527.30" cy="94.20" r="1.6" fill="#c6a842" stroke="none" stroke-width="1.0"/>
<polyline points="461.30,70.00 472.30,70.80 483.30,70.80 494.30,90.60 505.30,95.30 516.30,102.20 527.30,102.20" fill="none" stroke="#d6bd4e" stroke-width="1.3" stroke-linejoin="round"/>
<circle cx="461.30" cy="70.00" r="1.6" fill="#d6bd4e" stroke="none" stroke-width="1.0"/>
<circle cx="472.30" cy="70.80" r="1.6" fill="#d6bd4e" stroke="none" stroke-width="1.0"/>
<circle cx="483.30" cy="70.80" r="1.6" fill="#d6bd4e" stroke="none" stroke-width="1.0"/>
<circle cx="494.30" cy="90.60" r="1.6" fill="#d6bd4e" stroke="none" stroke-width="1.0"/>
<circle cx="505.30" cy="95.30" r="1.6" fill="#d6bd4e" stroke="none" stroke-width="1.0"/>
<circle cx="516.30" cy="102.20" r="1.6" fill="#d6bd4e" stroke="none" stroke-width="1.0"/>
<circle cx="527.30" cy="102.20" r="1.6" fill="#d6bd4e" stroke="none" stroke-width="1.0"/>
<polyline points="461.30,66.90 472.30,66.90 483.30,67.70 494.30,75.30 505.30,92.70 516.30,102.20 527.30,102.20" fill="none" stroke="#94969a" stroke-width="1.25" stroke-linejoin="round"/>
<circle cx="461.30" cy="66.90" r="1.7" fill="#94969a" stroke="none" stroke-width="1.0"/>
<circle cx="472.30" cy="66.90" r="1.7" fill="#94969a" stroke="none" stroke-width="1.0"/>
<circle cx="483.30" cy="67.70" r="1.7" fill="#94969a" stroke="none" stroke-width="1.0"/>
<circle cx="494.30" cy="75.30" r="1.7" fill="#94969a" stroke="none" stroke-width="1.0"/>
<circle cx="505.30" cy="92.70" r="1.7" fill="#94969a" stroke="none" stroke-width="1.0"/>
<circle cx="516.30" cy="102.20" r="1.7" fill="#94969a" stroke="none" stroke-width="1.0"/>
<circle cx="527.30" cy="102.20" r="1.7" fill="#94969a" stroke="none" stroke-width="1.0"/>
<polyline points="461.30,69.60 472.30,70.80 483.30,70.50 494.30,77.20 505.30,92.70 516.30,102.20 527.30,102.20" fill="none" stroke="#7c7e84" stroke-width="1.25" stroke-linejoin="round"/>
<circle cx="461.30" cy="69.60" r="1.7" fill="#7c7e84" stroke="none" stroke-width="1.0"/>
<circle cx="472.30" cy="70.80" r="1.7" fill="#7c7e84" stroke="none" stroke-width="1.0"/>
<circle cx="483.30" cy="70.50" r="1.7" fill="#7c7e84" stroke="none" stroke-width="1.0"/>
<circle cx="494.30" cy="77.20" r="1.7" fill="#7c7e84" stroke="none" stroke-width="1.0"/>
<circle cx="505.30" cy="92.70" r="1.7" fill="#7c7e84" stroke="none" stroke-width="1.0"/>
<circle cx="516.30" cy="102.20" r="1.7" fill="#7c7e84" stroke="none" stroke-width="1.0"/>
<circle cx="527.30" cy="102.20" r="1.7" fill="#7c7e84" stroke="none" stroke-width="1.0"/>
<circle cx="450.30" cy="66.90" r="1.4" fill="#5cb85c" stroke="none" stroke-width="1.0"/>
<circle cx="450.30" cy="70.50" r="1.4" fill="#5cb85c" stroke="none" stroke-width="1.0"/>
<circle cx="538.30" cy="102.50" r="1.6" fill="#fff" stroke="#5cb85c" stroke-width="1.05"/>
<polyline points="573.80,59.10 584.80,64.20 595.80,61.90 606.80,102.30 617.80,82.60 628.80,102.30 639.80,98.60" fill="none" stroke="#dc9a5a" stroke-width="1.3" stroke-linejoin="round"/>
<circle cx="573.80" cy="59.10" r="1.6" fill="#dc9a5a" stroke="none" stroke-width="1.0"/>
<circle cx="584.80" cy="64.20" r="1.6" fill="#dc9a5a" stroke="none" stroke-width="1.0"/>
<circle cx="595.80" cy="61.90" r="1.6" fill="#dc9a5a" stroke="none" stroke-width="1.0"/>
<circle cx="606.80" cy="102.30" r="1.6" fill="#dc9a5a" stroke="none" stroke-width="1.0"/>
<circle cx="617.80" cy="82.60" r="1.6" fill="#dc9a5a" stroke="none" stroke-width="1.0"/>
<circle cx="628.80" cy="102.30" r="1.6" fill="#dc9a5a" stroke="none" stroke-width="1.0"/>
<circle cx="639.80" cy="98.60" r="1.6" fill="#dc9a5a" stroke="none" stroke-width="1.0"/>
<polyline points="573.80,63.80 584.80,53.50 595.80,74.10 606.80,87.30 617.80,78.50 628.80,102.30 639.80,102.30" fill="none" stroke="#c77b3a" stroke-width="1.3" stroke-linejoin="round"/>
<circle cx="573.80" cy="63.80" r="1.6" fill="#c77b3a" stroke="none" stroke-width="1.0"/>
<circle cx="584.80" cy="53.50" r="1.6" fill="#c77b3a" stroke="none" stroke-width="1.0"/>
<circle cx="595.80" cy="74.10" r="1.6" fill="#c77b3a" stroke="none" stroke-width="1.0"/>
<circle cx="606.80" cy="87.30" r="1.6" fill="#c77b3a" stroke="none" stroke-width="1.0"/>
<circle cx="617.80" cy="78.50" r="1.6" fill="#c77b3a" stroke="none" stroke-width="1.0"/>
<circle cx="628.80" cy="102.30" r="1.6" fill="#c77b3a" stroke="none" stroke-width="1.0"/>
<circle cx="639.80" cy="102.30" r="1.6" fill="#c77b3a" stroke="none" stroke-width="1.0"/>
<polyline points="573.80,68.50 584.80,64.20 595.80,67.20 606.80,92.00 617.80,82.60 628.80,102.30 639.80,102.30" fill="none" stroke="#d08a45" stroke-width="1.3" stroke-linejoin="round"/>
<circle cx="573.80" cy="68.50" r="1.6" fill="#d08a45" stroke="none" stroke-width="1.0"/>
<circle cx="584.80" cy="64.20" r="1.6" fill="#d08a45" stroke="none" stroke-width="1.0"/>
<circle cx="595.80" cy="67.20" r="1.6" fill="#d08a45" stroke="none" stroke-width="1.0"/>
<circle cx="606.80" cy="92.00" r="1.6" fill="#d08a45" stroke="none" stroke-width="1.0"/>
<circle cx="617.80" cy="82.60" r="1.6" fill="#d08a45" stroke="none" stroke-width="1.0"/>
<circle cx="628.80" cy="102.30" r="1.6" fill="#d08a45" stroke="none" stroke-width="1.0"/>
<circle cx="639.80" cy="102.30" r="1.6" fill="#d08a45" stroke="none" stroke-width="1.0"/>
<polyline points="573.80,55.90 584.80,55.90 595.80,56.70 606.80,63.80 617.80,82.60 628.80,102.30 639.80,102.30" fill="none" stroke="#94969a" stroke-width="1.25" stroke-linejoin="round"/>
<circle cx="573.80" cy="55.90" r="1.7" fill="#94969a" stroke="none" stroke-width="1.0"/>
<circle cx="584.80" cy="55.90" r="1.7" fill="#94969a" stroke="none" stroke-width="1.0"/>
<circle cx="595.80" cy="56.70" r="1.7" fill="#94969a" stroke="none" stroke-width="1.0"/>
<circle cx="606.80" cy="63.80" r="1.7" fill="#94969a" stroke="none" stroke-width="1.0"/>
<circle cx="617.80" cy="82.60" r="1.7" fill="#94969a" stroke="none" stroke-width="1.0"/>
<circle cx="628.80" cy="102.30" r="1.7" fill="#94969a" stroke="none" stroke-width="1.0"/>
<circle cx="639.80" cy="102.30" r="1.7" fill="#94969a" stroke="none" stroke-width="1.0"/>
<polyline points="573.80,65.70 584.80,66.00 595.80,67.20 606.80,73.60 617.80,92.90 628.80,102.30 639.80,102.30" fill="none" stroke="#7c7e84" stroke-width="1.25" stroke-linejoin="round"/>
<circle cx="573.80" cy="65.70" r="1.7" fill="#7c7e84" stroke="none" stroke-width="1.0"/>
<circle cx="584.80" cy="66.00" r="1.7" fill="#7c7e84" stroke="none" stroke-width="1.0"/>
<circle cx="595.80" cy="67.20" r="1.7" fill="#7c7e84" stroke="none" stroke-width="1.0"/>
<circle cx="606.80" cy="73.60" r="1.7" fill="#7c7e84" stroke="none" stroke-width="1.0"/>
<circle cx="617.80" cy="92.90" r="1.7" fill="#7c7e84" stroke="none" stroke-width="1.0"/>
<circle cx="628.80" cy="102.30" r="1.7" fill="#7c7e84" stroke="none" stroke-width="1.0"/>
<circle cx="639.80" cy="102.30" r="1.7" fill="#7c7e84" stroke="none" stroke-width="1.0"/>
<circle cx="562.80" cy="55.90" r="1.4" fill="#5cb85c" stroke="none" stroke-width="1.0"/>
<circle cx="562.80" cy="65.70" r="1.4" fill="#5cb85c" stroke="none" stroke-width="1.0"/>
<circle cx="650.80" cy="102.30" r="1.6" fill="#fff" stroke="#5cb85c" stroke-width="1.05"/>
<circle cx="606.80" cy="102.00" r="2.0" fill="#d9a070" stroke="#c77b3a" stroke-width="1.0"/>
<line x1="665.70" y1="53.40" x2="674.70" y2="53.40" stroke="#5cb85c" stroke-width="1.5"/>
<circle cx="670.20" cy="53.40" r="2.1" fill="#5cb85c" stroke="none" stroke-width="1.0"/>
<text x="681.50" y="56.80" font-size="9.2" text-anchor="start" fill="#1e1e1e">Parent</text>
<line x1="665.70" y1="65.00" x2="674.70" y2="65.00" stroke="#94969a" stroke-width="1.5"/>
<circle cx="670.20" cy="65.00" r="2.1" fill="#94969a" stroke="none" stroke-width="1.0"/>
<text x="681.50" y="68.40" font-size="9.2" text-anchor="start" fill="#1e1e1e">Theoretical 1</text>
<line x1="665.70" y1="76.40" x2="674.70" y2="76.40" stroke="#7c7e84" stroke-width="1.5"/>
<circle cx="670.20" cy="76.40" r="2.1" fill="#7c7e84" stroke="none" stroke-width="1.0"/>
<text x="681.50" y="79.80" font-size="9.2" text-anchor="start" fill="#1e1e1e">Theoretical 2</text>
<text x="106.10" y="194.90" font-size="10.85" text-anchor="middle" fill="#1e1e1e">resources</text>
<path d="M51.40,218.6 L51.40,215.0 L69.20,215.0 L69.20,218.6" fill="none" stroke="#1a1a1a" stroke-width="1.5"/>
<path d="M74.60,218.6 L74.60,215.0 L137.90,215.0 L137.90,218.6" fill="none" stroke="#1a1a1a" stroke-width="1.5"/>
<path d="M143.20,218.6 L143.20,215.0 L161.20,215.0 L161.20,218.6" fill="none" stroke="#1a1a1a" stroke-width="1.5"/>
<text x="55.00" y="209.80" font-size="10.7" font-style="italic" fill="#1e1e1e">&#956;<tspan font-size="6.6" font-style="normal" dy="2.6">2</tspan></text>
<text x="99.60" y="209.80" font-size="10.7" font-style="italic" fill="#1e1e1e">&#956;<tspan font-size="6.6" font-style="normal" dy="2.6">12</tspan></text>
<text x="148.00" y="209.80" font-size="10.7" font-style="italic" fill="#1e1e1e">&#956;<tspan font-size="6.6" font-style="normal" dy="2.6">1</tspan></text>
<rect x="74.6" y="223.8" width="63.3" height="12.1" fill="#95399c"/>
<rect x="143.2" y="223.8" width="18.0" height="12.1" fill="#95399c"/>
<rect x="51.3" y="247.2" width="18.0" height="12.6" fill="#158784"/>
<rect x="74.6" y="247.2" width="63.3" height="12.6" fill="#158784"/>
<text x="0.00" y="233.40" font-size="10.85" text-anchor="start" fill="#1e1e1e">species 1</text>
<text x="0.00" y="255.70" font-size="10.85" text-anchor="start" fill="#1e1e1e">species 2</text>
<text x="79.8" y="272.5" font-size="10.85" fill="#1e1e1e"><tspan font-style="italic">R</tspan><tspan font-size="6.3" dy="3.8">1,12</tspan><tspan dy="-3.8"> = </tspan><tspan font-style="italic">R</tspan><tspan font-size="6.3" dy="3.8">2,12</tspan></text>
<line x1="185.1" y1="184.6" x2="201" y2="184.6" stroke="#444" stroke-width="1" stroke-dasharray="2.2,1.7"/>
<circle cx="193.00" cy="184.60" r="1.5" fill="#fff" stroke="#333" stroke-width="0.9"/>
<text x="204.70" y="187.00" font-size="9.4" text-anchor="start" fill="#1e1e1e">Passage 3</text>
<line x1="264.20" y1="184.60" x2="279.90" y2="184.60" stroke="#222" stroke-width="1.1"/>
<circle cx="272.10" cy="184.60" r="1.6" fill="#222" stroke="none" stroke-width="1.0"/>
<text x="283.80" y="187.00" font-size="9.4" text-anchor="start" fill="#1e1e1e">Passage 5</text>
<line x1="222.70" y1="208.50" x2="222.70" y2="286.60" stroke="#2a2a2a" stroke-width="1.1"/>
<line x1="217.40" y1="211.30" x2="222.70" y2="211.30" stroke="#2a2a2a" stroke-width="1.1"/>
<text x="212.90" y="214.60" font-size="9.4" text-anchor="end" fill="#1e1e1e">1000</text>
<line x1="217.40" y1="234.90" x2="222.70" y2="234.90" stroke="#2a2a2a" stroke-width="1.1"/>
<text x="212.90" y="238.20" font-size="9.4" text-anchor="end" fill="#1e1e1e">100</text>
<line x1="217.40" y1="258.50" x2="222.70" y2="258.50" stroke="#2a2a2a" stroke-width="1.1"/>
<text x="212.90" y="261.80" font-size="9.4" text-anchor="end" fill="#1e1e1e">10</text>
<line x1="217.40" y1="282.70" x2="222.70" y2="282.70" stroke="#2a2a2a" stroke-width="1.1"/>
<text x="212.90" y="286.00" font-size="9.4" text-anchor="end" fill="#1e1e1e">1</text>
<line x1="222.20" y1="286.10" x2="308.60" y2="286.10" stroke="#2a2a2a" stroke-width="1.1"/>
<line x1="224.30" y1="286.10" x2="224.30" y2="291.30" stroke="#2a2a2a" stroke-width="1.1"/>
<text x="224.30" y="301.60" font-size="9.4" text-anchor="middle" fill="#1e1e1e">0.00</text>
<line x1="245.35" y1="286.10" x2="245.35" y2="291.30" stroke="#2a2a2a" stroke-width="1.1"/>
<text x="245.35" y="301.60" font-size="9.4" text-anchor="middle" fill="#1e1e1e">0.25</text>
<line x1="266.40" y1="286.10" x2="266.40" y2="291.30" stroke="#2a2a2a" stroke-width="1.1"/>
<text x="266.40" y="301.60" font-size="9.4" text-anchor="middle" fill="#1e1e1e">0.50</text>
<line x1="287.45" y1="286.10" x2="287.45" y2="291.30" stroke="#2a2a2a" stroke-width="1.1"/>
<text x="287.45" y="301.60" font-size="9.4" text-anchor="middle" fill="#1e1e1e">0.75</text>
<line x1="308.50" y1="286.10" x2="308.50" y2="291.30" stroke="#2a2a2a" stroke-width="1.1"/>
<text x="308.50" y="301.60" font-size="9.4" text-anchor="middle" fill="#1e1e1e">1.00</text>
<text x="185.60" y="248.50" font-size="10.85" text-anchor="middle" fill="#1e1e1e" transform="rotate(-90 185.60 248.50)">Dose dependence</text>
<text x="227.6" y="316.6" font-size="11.0" fill="#1e1e1e">Niche overlap (<tspan font-style="italic">&#947;</tspan><tspan font-size="6.0" dy="3.6">12</tspan><tspan dy="-3.6">)</tspan></text>
<path d="M226.80,282.70 C230.67,282.70 242.80,282.72 250.00,282.70 C257.20,282.68 265.17,282.67 270.00,282.60 C274.83,282.53 276.12,282.57 279.00,282.30 C281.88,282.03 284.82,281.55 287.30,281.00 C289.78,280.45 291.88,279.93 293.90,279.00 C295.92,278.07 297.88,276.98 299.40,275.40 C300.92,273.82 302.05,271.85 303.00,269.50 C303.95,267.15 304.63,263.88 305.10,261.30 C305.57,258.72 305.58,256.88 305.80,254.00 C306.02,251.12 306.15,248.33 306.40,244.00 C306.65,239.67 306.98,233.52 307.30,228.00 C307.62,222.48 308.13,213.75 308.30,210.90" fill="none" stroke="#111" stroke-width="1.5"/>
<path d="M264.00,282.20 C265.00,282.07 268.12,281.60 270.00,281.40 C271.88,281.20 273.55,281.18 275.30,281.00 C277.05,280.82 278.72,280.67 280.50,280.30 C282.28,279.93 284.38,279.32 286.00,278.80 C287.62,278.28 288.65,277.93 290.20,277.20 C291.75,276.47 293.62,275.73 295.30,274.40 C296.98,273.07 298.97,271.02 300.30,269.20 C301.63,267.38 302.52,265.53 303.30,263.50 C304.08,261.47 304.57,259.25 305.00,257.00 C305.43,254.75 305.75,251.17 305.90,250.00" fill="none" stroke="#111" stroke-width="1.4" stroke-dasharray="0.1,4.6" stroke-linecap="round"/>
<circle cx="286.90" cy="278.60" r="3.0" fill="#7fbf45" stroke="none" stroke-width="1.0"/>
<circle cx="287.00" cy="280.60" r="3.0" fill="#7fbf45" stroke="none" stroke-width="1.0"/>
<circle cx="299.40" cy="270.70" r="2.8" fill="#8090d4" stroke="none" stroke-width="1.0"/>
<circle cx="300.10" cy="275.10" r="2.8" fill="#8090d4" stroke="none" stroke-width="1.0"/>
<circle cx="306.30" cy="252.80" r="2.9" fill="#cd4e5a" stroke="none" stroke-width="1.0"/>
<circle cx="306.30" cy="259.80" r="2.9" fill="#cd4e5a" stroke="none" stroke-width="1.0"/>
<path d="M226.80,282.70 C230.67,282.70 242.80,282.72 250.00,282.70 C257.20,282.68 265.17,282.67 270.00,282.60 C274.83,282.53 276.12,282.57 279.00,282.30 C281.88,282.03 284.82,281.55 287.30,281.00 C289.78,280.45 291.88,279.93 293.90,279.00 C295.92,278.07 297.88,276.98 299.40,275.40 C300.92,273.82 302.05,271.85 303.00,269.50 C303.95,267.15 304.63,263.88 305.10,261.30 C305.57,258.72 305.58,256.88 305.80,254.00 C306.02,251.12 306.15,248.33 306.40,244.00 C306.65,239.67 306.98,233.52 307.30,228.00 C307.62,222.48 308.13,213.75 308.30,210.90" fill="none" stroke="#111" stroke-width="1.0" opacity="0.55"/>
<line x1="431.10" y1="180.90" x2="440.10" y2="180.90" stroke="#9f46a8" stroke-width="1.4"/>
<circle cx="435.60" cy="180.90" r="2.2" fill="#9f46a8" stroke="none" stroke-width="1.0"/>
<text x="446.70" y="184.40" font-size="9.4" text-anchor="start" fill="#1e1e1e">Species 1</text>
<line x1="494.50" y1="180.90" x2="503.50" y2="180.90" stroke="#2b9692" stroke-width="1.4"/>
<circle cx="499.00" cy="180.90" r="2.2" fill="#2b9692" stroke="none" stroke-width="1.0"/>
<text x="510.40" y="184.40" font-size="9.4" text-anchor="start" fill="#1e1e1e">Species 2</text>
<rect x="392.10" y="194.9" width="43.70" height="12.3" fill="#6fa33a"/>
<text x="393.70" y="203.1" font-size="9.4" fill="#111"><tspan font-style="italic">&#947;</tspan><tspan font-size="6.0" dy="3.0" fill="#333">12</tspan><tspan dy="-3.0"> = 0.75</tspan></text>
<rect x="482.10" y="194.9" width="37.10" height="12.3" fill="#7383d4"/>
<text x="483.70" y="203.1" font-size="9.4" fill="#111"><tspan font-style="italic">&#947;</tspan><tspan font-size="6.0" dy="3.0" fill="#333">12</tspan><tspan dy="-3.0"> = 0.9</tspan></text>
<rect x="564.00" y="194.9" width="48.90" height="12.3" fill="#cc3a55"/>
<text x="565.60" y="203.1" font-size="9.4" fill="#111"><tspan font-style="italic">&#947;</tspan><tspan font-size="6.0" dy="3.0" fill="#333">12</tspan><tspan dy="-3.0"> = 0.975</tspan></text>
<line x1="373.30" y1="209.80" x2="373.30" y2="283.50" stroke="#2a2a2a" stroke-width="1.1"/>
<line x1="368.30" y1="212.50" x2="373.30" y2="212.50" stroke="#2a2a2a" stroke-width="1.1"/>
<text x="364.2" y="217.00" font-size="9.1" text-anchor="end" fill="#1e1e1e">10<tspan font-size="6.8" dy="-3.9">0</tspan></text>
<line x1="368.30" y1="256.70" x2="373.30" y2="256.70" stroke="#2a2a2a" stroke-width="1.1"/>
<text x="364.2" y="261.20" font-size="9.1" text-anchor="end" fill="#1e1e1e">10<tspan font-size="6.8" dy="-3.9">&#8722;1</tspan></text>
<text x="338.00" y="247.30" font-size="10.85" text-anchor="middle" fill="#1e1e1e" transform="rotate(-90 338.00 247.30)">Relative abundance</text>
<line x1="373.30" y1="283.50" x2="450.02" y2="283.50" stroke="#2a2a2a" stroke-width="1.1"/>
<line x1="379.50" y1="283.50" x2="379.50" y2="288.50" stroke="#2a2a2a" stroke-width="1.1"/>
<text x="382.80" y="292.00" font-size="9.4" text-anchor="end" fill="#1e1e1e" transform="rotate(-90 382.80 292.00)">1000:1</text>
<line x1="390.17" y1="283.50" x2="390.17" y2="288.50" stroke="#2a2a2a" stroke-width="1.1"/>
<text x="393.47" y="292.00" font-size="9.4" text-anchor="end" fill="#1e1e1e" transform="rotate(-90 393.47 292.00)">100:1</text>
<line x1="400.84" y1="283.50" x2="400.84" y2="288.50" stroke="#2a2a2a" stroke-width="1.1"/>
<text x="404.14" y="292.00" font-size="9.4" text-anchor="end" fill="#1e1e1e" transform="rotate(-90 404.14 292.00)">10:1</text>
<line x1="411.51" y1="283.50" x2="411.51" y2="288.50" stroke="#2a2a2a" stroke-width="1.1"/>
<text x="414.81" y="292.00" font-size="9.4" text-anchor="end" fill="#1e1e1e" transform="rotate(-90 414.81 292.00)">1:1</text>
<line x1="422.18" y1="283.50" x2="422.18" y2="288.50" stroke="#2a2a2a" stroke-width="1.1"/>
<text x="425.48" y="292.00" font-size="9.4" text-anchor="end" fill="#1e1e1e" transform="rotate(-90 425.48 292.00)">1:10</text>
<line x1="432.85" y1="283.50" x2="432.85" y2="288.50" stroke="#2a2a2a" stroke-width="1.1"/>
<text x="436.15" y="292.00" font-size="9.4" text-anchor="end" fill="#1e1e1e" transform="rotate(-90 436.15 292.00)">1:100</text>
<line x1="443.52" y1="283.50" x2="443.52" y2="288.50" stroke="#2a2a2a" stroke-width="1.1"/>
<text x="446.82" y="292.00" font-size="9.4" text-anchor="end" fill="#1e1e1e" transform="rotate(-90 446.82 292.00)">1:1000</text>
<line x1="461.10" y1="283.50" x2="537.10" y2="283.50" stroke="#2a2a2a" stroke-width="1.1"/>
<line x1="467.30" y1="283.50" x2="467.30" y2="288.50" stroke="#2a2a2a" stroke-width="1.1"/>
<text x="470.60" y="292.00" font-size="9.4" text-anchor="end" fill="#1e1e1e" transform="rotate(-90 470.60 292.00)">1000:1</text>
<line x1="477.85" y1="283.50" x2="477.85" y2="288.50" stroke="#2a2a2a" stroke-width="1.1"/>
<text x="481.15" y="292.00" font-size="9.4" text-anchor="end" fill="#1e1e1e" transform="rotate(-90 481.15 292.00)">100:1</text>
<line x1="488.40" y1="283.50" x2="488.40" y2="288.50" stroke="#2a2a2a" stroke-width="1.1"/>
<text x="491.70" y="292.00" font-size="9.4" text-anchor="end" fill="#1e1e1e" transform="rotate(-90 491.70 292.00)">10:1</text>
<line x1="498.95" y1="283.50" x2="498.95" y2="288.50" stroke="#2a2a2a" stroke-width="1.1"/>
<text x="502.25" y="292.00" font-size="9.4" text-anchor="end" fill="#1e1e1e" transform="rotate(-90 502.25 292.00)">1:1</text>
<line x1="509.50" y1="283.50" x2="509.50" y2="288.50" stroke="#2a2a2a" stroke-width="1.1"/>
<text x="512.80" y="292.00" font-size="9.4" text-anchor="end" fill="#1e1e1e" transform="rotate(-90 512.80 292.00)">1:10</text>
<line x1="520.05" y1="283.50" x2="520.05" y2="288.50" stroke="#2a2a2a" stroke-width="1.1"/>
<text x="523.35" y="292.00" font-size="9.4" text-anchor="end" fill="#1e1e1e" transform="rotate(-90 523.35 292.00)">1:100</text>
<line x1="530.60" y1="283.50" x2="530.60" y2="288.50" stroke="#2a2a2a" stroke-width="1.1"/>
<text x="533.90" y="292.00" font-size="9.4" text-anchor="end" fill="#1e1e1e" transform="rotate(-90 533.90 292.00)">1:1000</text>
<line x1="548.30" y1="283.50" x2="625.20" y2="283.50" stroke="#2a2a2a" stroke-width="1.1"/>
<line x1="554.50" y1="283.50" x2="554.50" y2="288.50" stroke="#2a2a2a" stroke-width="1.1"/>
<text x="557.80" y="292.00" font-size="9.4" text-anchor="end" fill="#1e1e1e" transform="rotate(-90 557.80 292.00)">1000:1</text>
<line x1="565.20" y1="283.50" x2="565.20" y2="288.50" stroke="#2a2a2a" stroke-width="1.1"/>
<text x="568.50" y="292.00" font-size="9.4" text-anchor="end" fill="#1e1e1e" transform="rotate(-90 568.50 292.00)">100:1</text>
<line x1="575.90" y1="283.50" x2="575.90" y2="288.50" stroke="#2a2a2a" stroke-width="1.1"/>
<text x="579.20" y="292.00" font-size="9.4" text-anchor="end" fill="#1e1e1e" transform="rotate(-90 579.20 292.00)">10:1</text>
<line x1="586.60" y1="283.50" x2="586.60" y2="288.50" stroke="#2a2a2a" stroke-width="1.1"/>
<text x="589.90" y="292.00" font-size="9.4" text-anchor="end" fill="#1e1e1e" transform="rotate(-90 589.90 292.00)">1:1</text>
<line x1="597.30" y1="283.50" x2="597.30" y2="288.50" stroke="#2a2a2a" stroke-width="1.1"/>
<text x="600.60" y="292.00" font-size="9.4" text-anchor="end" fill="#1e1e1e" transform="rotate(-90 600.60 292.00)">1:10</text>
<line x1="608.00" y1="283.50" x2="608.00" y2="288.50" stroke="#2a2a2a" stroke-width="1.1"/>
<text x="611.30" y="292.00" font-size="9.4" text-anchor="end" fill="#1e1e1e" transform="rotate(-90 611.30 292.00)">1:100</text>
<line x1="618.70" y1="283.50" x2="618.70" y2="288.50" stroke="#2a2a2a" stroke-width="1.1"/>
<text x="622.00" y="292.00" font-size="9.4" text-anchor="end" fill="#1e1e1e" transform="rotate(-90 622.00 292.00)">1:1000</text>
<text x="499.60" y="334.00" font-size="10.85" text-anchor="middle" fill="#1e1e1e">Mixture ratio</text>
<polyline points="379.50,222.30 390.17,222.30 400.84,222.30 411.51,225.60 422.18,229.80 432.85,229.80 443.52,229.80" fill="none" stroke="#9f46a8" stroke-width="1.3" stroke-dasharray="0.1,4.4" stroke-linecap="round"/>
<circle cx="379.50" cy="222.30" r="1.55" fill="#fff" stroke="#9f46a8" stroke-width="1.0"/>
<circle cx="390.17" cy="222.30" r="1.55" fill="#fff" stroke="#9f46a8" stroke-width="1.0"/>
<circle cx="400.84" cy="222.30" r="1.55" fill="#fff" stroke="#9f46a8" stroke-width="1.0"/>
<circle cx="411.51" cy="225.60" r="1.55" fill="#fff" stroke="#9f46a8" stroke-width="1.0"/>
<circle cx="422.18" cy="229.80" r="1.55" fill="#fff" stroke="#9f46a8" stroke-width="1.0"/>
<circle cx="432.85" cy="229.80" r="1.55" fill="#fff" stroke="#9f46a8" stroke-width="1.0"/>
<circle cx="443.52" cy="229.80" r="1.55" fill="#fff" stroke="#9f46a8" stroke-width="1.0"/>
<polyline points="379.50,229.80 390.17,229.80 400.84,229.80 411.51,225.60 422.18,222.30 432.85,222.30 443.52,222.30" fill="none" stroke="#2b9692" stroke-width="1.3" stroke-dasharray="0.1,4.4" stroke-linecap="round"/>
<circle cx="379.50" cy="229.80" r="1.55" fill="#fff" stroke="#2b9692" stroke-width="1.0"/>
<circle cx="390.17" cy="229.80" r="1.55" fill="#fff" stroke="#2b9692" stroke-width="1.0"/>
<circle cx="400.84" cy="229.80" r="1.55" fill="#fff" stroke="#2b9692" stroke-width="1.0"/>
<circle cx="411.51" cy="225.60" r="1.55" fill="#fff" stroke="#2b9692" stroke-width="1.0"/>
<circle cx="422.18" cy="222.30" r="1.55" fill="#fff" stroke="#2b9692" stroke-width="1.0"/>
<circle cx="432.85" cy="222.30" r="1.55" fill="#fff" stroke="#2b9692" stroke-width="1.0"/>
<circle cx="443.52" cy="222.30" r="1.55" fill="#fff" stroke="#2b9692" stroke-width="1.0"/>
<path d="M379.50,224.60 C381.28,224.60 386.61,224.58 390.17,224.60 C393.73,224.62 397.28,224.53 400.84,224.70 C404.40,224.87 407.95,225.32 411.51,225.60 C415.07,225.88 418.62,226.23 422.18,226.40 C425.74,226.57 429.29,226.57 432.85,226.60 C436.41,226.63 441.74,226.60 443.52,226.60" fill="none" stroke="#9f46a8" stroke-width="1.2"/>
<circle cx="379.50" cy="224.60" r="1.3" fill="#9f46a8" stroke="none" stroke-width="1.0"/>
<circle cx="390.17" cy="224.60" r="1.3" fill="#9f46a8" stroke="none" stroke-width="1.0"/>
<circle cx="400.84" cy="224.70" r="1.3" fill="#9f46a8" stroke="none" stroke-width="1.0"/>
<circle cx="411.51" cy="225.60" r="1.3" fill="#9f46a8" stroke="none" stroke-width="1.0"/>
<circle cx="422.18" cy="226.40" r="1.3" fill="#9f46a8" stroke="none" stroke-width="1.0"/>
<circle cx="432.85" cy="226.60" r="1.3" fill="#9f46a8" stroke="none" stroke-width="1.0"/>
<circle cx="443.52" cy="226.60" r="1.3" fill="#9f46a8" stroke="none" stroke-width="1.0"/>
<path d="M379.50,226.60 C381.28,226.60 386.61,226.63 390.17,226.60 C393.73,226.57 397.28,226.57 400.84,226.40 C404.40,226.23 407.95,225.88 411.51,225.60 C415.07,225.32 418.62,224.87 422.18,224.70 C425.74,224.53 429.29,224.62 432.85,224.60 C436.41,224.58 441.74,224.60 443.52,224.60" fill="none" stroke="#2b9692" stroke-width="1.2"/>
<circle cx="379.50" cy="226.60" r="1.3" fill="#2b9692" stroke="none" stroke-width="1.0"/>
<circle cx="390.17" cy="226.60" r="1.3" fill="#2b9692" stroke="none" stroke-width="1.0"/>
<circle cx="400.84" cy="226.40" r="1.3" fill="#2b9692" stroke="none" stroke-width="1.0"/>
<circle cx="411.51" cy="225.60" r="1.3" fill="#2b9692" stroke="none" stroke-width="1.0"/>
<circle cx="422.18" cy="224.70" r="1.3" fill="#2b9692" stroke="none" stroke-width="1.0"/>
<circle cx="432.85" cy="224.60" r="1.3" fill="#2b9692" stroke="none" stroke-width="1.0"/>
<circle cx="443.52" cy="224.60" r="1.3" fill="#2b9692" stroke="none" stroke-width="1.0"/>
<polyline points="467.30,217.50 477.85,217.50 488.40,218.90 498.95,225.70 509.50,236.10 520.05,240.10 530.60,240.30" fill="none" stroke="#9f46a8" stroke-width="1.3" stroke-dasharray="0.1,4.4" stroke-linecap="round"/>
<circle cx="467.30" cy="217.50" r="1.55" fill="#fff" stroke="#9f46a8" stroke-width="1.0"/>
<circle cx="477.85" cy="217.50" r="1.55" fill="#fff" stroke="#9f46a8" stroke-width="1.0"/>
<circle cx="488.40" cy="218.90" r="1.55" fill="#fff" stroke="#9f46a8" stroke-width="1.0"/>
<circle cx="498.95" cy="225.70" r="1.55" fill="#fff" stroke="#9f46a8" stroke-width="1.0"/>
<circle cx="509.50" cy="236.10" r="1.55" fill="#fff" stroke="#9f46a8" stroke-width="1.0"/>
<circle cx="520.05" cy="240.10" r="1.55" fill="#fff" stroke="#9f46a8" stroke-width="1.0"/>
<circle cx="530.60" cy="240.30" r="1.55" fill="#fff" stroke="#9f46a8" stroke-width="1.0"/>
<polyline points="467.30,240.30 477.85,240.10 488.40,236.10 498.95,225.70 509.50,218.90 520.05,217.50 530.60,217.50" fill="none" stroke="#2b9692" stroke-width="1.3" stroke-dasharray="0.1,4.4" stroke-linecap="round"/>
<circle cx="467.30" cy="240.30" r="1.55" fill="#fff" stroke="#2b9692" stroke-width="1.0"/>
<circle cx="477.85" cy="240.10" r="1.55" fill="#fff" stroke="#2b9692" stroke-width="1.0"/>
<circle cx="488.40" cy="236.10" r="1.55" fill="#fff" stroke="#2b9692" stroke-width="1.0"/>
<circle cx="498.95" cy="225.70" r="1.55" fill="#fff" stroke="#2b9692" stroke-width="1.0"/>
<circle cx="509.50" cy="218.90" r="1.55" fill="#fff" stroke="#2b9692" stroke-width="1.0"/>
<circle cx="520.05" cy="217.50" r="1.55" fill="#fff" stroke="#2b9692" stroke-width="1.0"/>
<circle cx="530.60" cy="217.50" r="1.55" fill="#fff" stroke="#2b9692" stroke-width="1.0"/>
<path d="M467.30,220.40 C469.06,220.40 474.33,220.22 477.85,220.40 C481.37,220.58 484.88,220.62 488.40,221.50 C491.92,222.38 495.43,224.00 498.95,225.70 C502.47,227.40 505.98,230.45 509.50,231.70 C513.02,232.95 516.53,232.90 520.05,233.20 C523.57,233.50 528.84,233.45 530.60,233.50" fill="none" stroke="#9f46a8" stroke-width="1.2"/>
<circle cx="467.30" cy="220.40" r="1.3" fill="#9f46a8" stroke="none" stroke-width="1.0"/>
<circle cx="477.85" cy="220.40" r="1.3" fill="#9f46a8" stroke="none" stroke-width="1.0"/>
<circle cx="488.40" cy="221.50" r="1.3" fill="#9f46a8" stroke="none" stroke-width="1.0"/>
<circle cx="498.95" cy="225.70" r="1.3" fill="#9f46a8" stroke="none" stroke-width="1.0"/>
<circle cx="509.50" cy="231.70" r="1.3" fill="#9f46a8" stroke="none" stroke-width="1.0"/>
<circle cx="520.05" cy="233.20" r="1.3" fill="#9f46a8" stroke="none" stroke-width="1.0"/>
<circle cx="530.60" cy="233.50" r="1.3" fill="#9f46a8" stroke="none" stroke-width="1.0"/>
<path d="M467.30,233.50 C469.06,233.45 474.33,233.50 477.85,233.20 C481.37,232.90 484.88,232.95 488.40,231.70 C491.92,230.45 495.43,227.40 498.95,225.70 C502.47,224.00 505.98,222.38 509.50,221.50 C513.02,220.62 516.53,220.58 520.05,220.40 C523.57,220.22 528.84,220.40 530.60,220.40" fill="none" stroke="#2b9692" stroke-width="1.2"/>
<circle cx="467.30" cy="233.50" r="1.3" fill="#2b9692" stroke="none" stroke-width="1.0"/>
<circle cx="477.85" cy="233.20" r="1.3" fill="#2b9692" stroke="none" stroke-width="1.0"/>
<circle cx="488.40" cy="231.70" r="1.3" fill="#2b9692" stroke="none" stroke-width="1.0"/>
<circle cx="498.95" cy="225.70" r="1.3" fill="#2b9692" stroke="none" stroke-width="1.0"/>
<circle cx="509.50" cy="221.50" r="1.3" fill="#2b9692" stroke="none" stroke-width="1.0"/>
<circle cx="520.05" cy="220.40" r="1.3" fill="#2b9692" stroke="none" stroke-width="1.0"/>
<circle cx="530.60" cy="220.40" r="1.3" fill="#2b9692" stroke="none" stroke-width="1.0"/>
<polyline points="554.50,213.00 565.20,213.60 575.90,215.80 586.60,225.20 597.30,248.50 608.00,262.00 618.70,269.50" fill="none" stroke="#9f46a8" stroke-width="1.3" stroke-dasharray="0.1,4.4" stroke-linecap="round"/>
<circle cx="554.50" cy="213.00" r="1.55" fill="#fff" stroke="#9f46a8" stroke-width="1.0"/>
<circle cx="565.20" cy="213.60" r="1.55" fill="#fff" stroke="#9f46a8" stroke-width="1.0"/>
<circle cx="575.90" cy="215.80" r="1.55" fill="#fff" stroke="#9f46a8" stroke-width="1.0"/>
<circle cx="586.60" cy="225.20" r="1.55" fill="#fff" stroke="#9f46a8" stroke-width="1.0"/>
<circle cx="597.30" cy="248.50" r="1.55" fill="#fff" stroke="#9f46a8" stroke-width="1.0"/>
<circle cx="608.00" cy="262.00" r="1.55" fill="#fff" stroke="#9f46a8" stroke-width="1.0"/>
<circle cx="618.70" cy="269.50" r="1.55" fill="#fff" stroke="#9f46a8" stroke-width="1.0"/>
<polyline points="554.50,269.50 565.20,262.00 575.90,248.50 586.60,225.20 597.30,215.80 608.00,213.60 618.70,213.00" fill="none" stroke="#2b9692" stroke-width="1.3" stroke-dasharray="0.1,4.4" stroke-linecap="round"/>
<circle cx="554.50" cy="269.50" r="1.55" fill="#fff" stroke="#2b9692" stroke-width="1.0"/>
<circle cx="565.20" cy="262.00" r="1.55" fill="#fff" stroke="#2b9692" stroke-width="1.0"/>
<circle cx="575.90" cy="248.50" r="1.55" fill="#fff" stroke="#2b9692" stroke-width="1.0"/>
<circle cx="586.60" cy="225.20" r="1.55" fill="#fff" stroke="#2b9692" stroke-width="1.0"/>
<circle cx="597.30" cy="215.80" r="1.55" fill="#fff" stroke="#2b9692" stroke-width="1.0"/>
<circle cx="608.00" cy="213.60" r="1.55" fill="#fff" stroke="#2b9692" stroke-width="1.0"/>
<circle cx="618.70" cy="213.00" r="1.55" fill="#fff" stroke="#2b9692" stroke-width="1.0"/>
<path d="M554.50,213.60 C556.28,213.73 561.63,213.95 565.20,214.40 C568.77,214.85 572.33,214.37 575.90,216.30 C579.47,218.23 583.03,221.25 586.60,226.00 C590.17,230.75 593.73,240.15 597.30,244.80 C600.87,249.45 604.43,251.67 608.00,253.90 C611.57,256.13 616.92,257.48 618.70,258.20" fill="none" stroke="#9f46a8" stroke-width="1.2"/>
<circle cx="554.50" cy="213.60" r="1.3" fill="#9f46a8" stroke="none" stroke-width="1.0"/>
<circle cx="565.20" cy="214.40" r="1.3" fill="#9f46a8" stroke="none" stroke-width="1.0"/>
<circle cx="575.90" cy="216.30" r="1.3" fill="#9f46a8" stroke="none" stroke-width="1.0"/>
<circle cx="586.60" cy="226.00" r="1.3" fill="#9f46a8" stroke="none" stroke-width="1.0"/>
<circle cx="597.30" cy="244.80" r="1.3" fill="#9f46a8" stroke="none" stroke-width="1.0"/>
<circle cx="608.00" cy="253.90" r="1.3" fill="#9f46a8" stroke="none" stroke-width="1.0"/>
<circle cx="618.70" cy="258.20" r="1.3" fill="#9f46a8" stroke="none" stroke-width="1.0"/>
<path d="M554.50,258.20 C556.28,257.48 561.63,256.13 565.20,253.90 C568.77,251.67 572.33,249.45 575.90,244.80 C579.47,240.15 583.03,230.75 586.60,226.00 C590.17,221.25 593.73,218.23 597.30,216.30 C600.87,214.37 604.43,214.85 608.00,214.40 C611.57,213.95 616.92,213.73 618.70,213.60" fill="none" stroke="#2b9692" stroke-width="1.2"/>
<circle cx="554.50" cy="258.20" r="1.3" fill="#2b9692" stroke="none" stroke-width="1.0"/>
<circle cx="565.20" cy="253.90" r="1.3" fill="#2b9692" stroke="none" stroke-width="1.0"/>
<circle cx="575.90" cy="244.80" r="1.3" fill="#2b9692" stroke="none" stroke-width="1.0"/>
<circle cx="586.60" cy="226.00" r="1.3" fill="#2b9692" stroke="none" stroke-width="1.0"/>
<circle cx="597.30" cy="216.30" r="1.3" fill="#2b9692" stroke="none" stroke-width="1.0"/>
<circle cx="608.00" cy="214.40" r="1.3" fill="#2b9692" stroke="none" stroke-width="1.0"/>
<circle cx="618.70" cy="213.60" r="1.3" fill="#2b9692" stroke="none" stroke-width="1.0"/>
<text x="712.90" y="191.70" font-size="11.1" text-anchor="start" fill="#1e1e1e">Niche overlap</text>
<text x="712.9" y="203.6" font-size="10.85" fill="#1e1e1e">(<tspan font-style="italic">&#947;</tspan><tspan font-size="6.0" dy="3.6">12</tspan><tspan dy="-3.6">)</tspan></text>
<line x1="713.60" y1="216.10" x2="722.00" y2="216.10" stroke="#77b33f" stroke-width="1.4"/>
<text x="729.20" y="219.50" font-size="9.4" text-anchor="start" fill="#1e1e1e">0.75</text>
<line x1="713.60" y1="227.60" x2="722.00" y2="227.60" stroke="#6c84d3" stroke-width="1.4"/>
<text x="729.20" y="231.00" font-size="9.4" text-anchor="start" fill="#1e1e1e">0.9</text>
<line x1="713.60" y1="238.60" x2="722.00" y2="238.60" stroke="#cf3c5d" stroke-width="1.4"/>
<text x="729.20" y="242.00" font-size="9.4" text-anchor="start" fill="#1e1e1e">0.975</text>
<line x1="682.30" y1="207.50" x2="682.30" y2="286.30" stroke="#2a2a2a" stroke-width="1.1"/>
<line x1="682.30" y1="286.30" x2="776.40" y2="286.30" stroke="#2a2a2a" stroke-width="1.1"/>
<line x1="676.80" y1="212.50" x2="682.30" y2="212.50" stroke="#2a2a2a" stroke-width="1.1"/>
<text x="675.40" y="215.80" font-size="9.4" text-anchor="end" fill="#1e1e1e">100</text>
<line x1="676.80" y1="247.50" x2="682.30" y2="247.50" stroke="#2a2a2a" stroke-width="1.1"/>
<text x="675.40" y="250.80" font-size="9.4" text-anchor="end" fill="#1e1e1e">10</text>
<line x1="676.80" y1="282.40" x2="682.30" y2="282.40" stroke="#2a2a2a" stroke-width="1.1"/>
<text x="675.40" y="285.70" font-size="9.4" text-anchor="end" fill="#1e1e1e">1</text>
<line x1="687.00" y1="286.30" x2="687.00" y2="291.10" stroke="#2a2a2a" stroke-width="1.1"/>
<text x="687.00" y="301.50" font-size="9.4" text-anchor="middle" fill="#1e1e1e">0</text>
<line x1="709.93" y1="286.30" x2="709.93" y2="291.10" stroke="#2a2a2a" stroke-width="1.1"/>
<text x="709.93" y="301.50" font-size="9.4" text-anchor="middle" fill="#1e1e1e">20</text>
<line x1="732.86" y1="286.30" x2="732.86" y2="291.10" stroke="#2a2a2a" stroke-width="1.1"/>
<text x="732.86" y="301.50" font-size="9.4" text-anchor="middle" fill="#1e1e1e">40</text>
<line x1="755.79" y1="286.30" x2="755.79" y2="291.10" stroke="#2a2a2a" stroke-width="1.1"/>
<text x="755.79" y="301.50" font-size="9.4" text-anchor="middle" fill="#1e1e1e">60</text>
<text x="701.90" y="316.80" font-size="10.85" text-anchor="start" fill="#1e1e1e"># passages</text>
<text x="653.50" y="248.00" font-size="10.85" text-anchor="middle" fill="#1e1e1e" transform="rotate(-90 653.50 248.00)">Dose dependence</text>
<path d="M687.60,262.10 C688.03,264.00 689.13,270.53 690.20,273.50 C691.27,276.47 692.32,278.50 694.00,279.90 C695.68,281.30 697.63,281.50 700.30,281.90 C702.97,282.30 705.05,282.22 710.00,282.30 C714.95,282.38 726.67,282.38 730.00,282.40" fill="none" stroke="#77b33f" stroke-width="1.6"/>
<path d="M687.60,248.10 C688.03,250.65 689.13,258.95 690.20,263.40 C691.27,267.85 692.32,272.05 694.00,274.80 C695.68,277.55 697.55,278.72 700.30,279.90 C703.05,281.08 705.55,281.50 710.50,281.90 C715.45,282.30 719.65,282.22 730.00,282.30 C740.35,282.38 765.50,282.38 772.60,282.40" fill="none" stroke="#6c84d3" stroke-width="1.6"/>
<path d="M687.60,211.30 C688.03,215.33 689.35,229.15 690.20,235.50 C691.05,241.85 691.43,244.97 692.70,249.40 C693.97,253.83 695.68,258.58 697.80,262.10 C699.92,265.62 702.02,268.05 705.40,270.50 C708.78,272.95 713.87,275.32 718.10,276.80 C722.33,278.28 724.47,278.58 730.80,279.40 C737.13,280.22 749.13,281.20 756.10,281.70 C763.07,282.20 769.85,282.28 772.60,282.40" fill="none" stroke="#cf3c5d" stroke-width="1.6"/>
</svg>
</body></html>
